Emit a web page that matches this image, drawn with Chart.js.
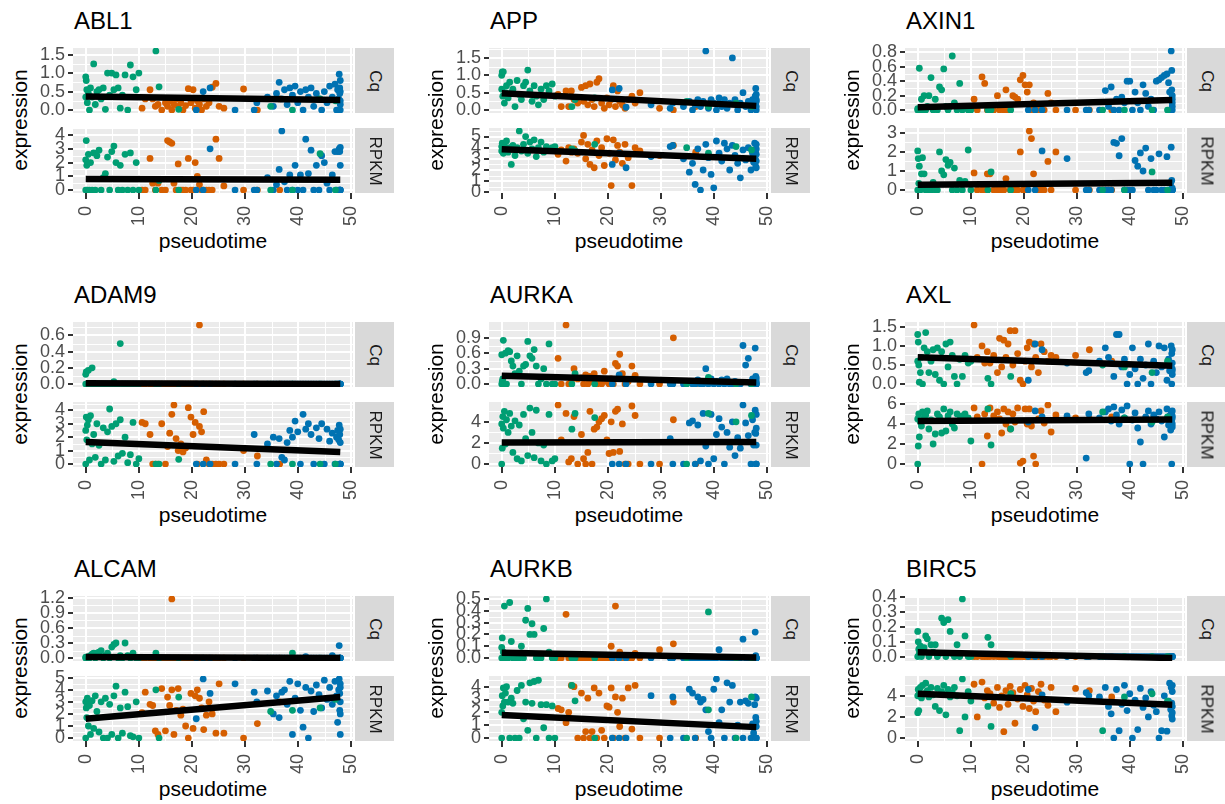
<!DOCTYPE html>
<html>
<head>
<meta charset="utf-8">
<script src="https://cdn.jsdelivr.net/npm/chart.js@4.4.0/dist/chart.umd.min.js"></script>
<style>
  body { margin: 0; background: #fff; }
  #page { position: relative; width: 1225px; height: 804px; overflow: hidden;
          font-family: "Liberation Sans", Arial, Helvetica, sans-serif; }
  .gene { position: absolute; font-size: 24px; line-height: 24px; color: #000; white-space: nowrap; }
  .axtitle { position: absolute; font-size: 21px; line-height: 21px; color: #000; white-space: nowrap; }
  .strip { position: absolute; background: #d9d9d9; }
  .strip span { position: absolute; left: 50%; top: 50%; transform: translate(-50%, -50%) rotate(90deg);
                font-size: 17px; line-height: 17px; color: #1a1a1a; white-space: nowrap; }
  canvas { position: absolute; }
</style>
</head>
<body>
<div id="page"></div>
<script>
// cells, same for every gene: green, orange and blue groups
const greenTime = [0, 0, 0.1, 0.2, 0.3, 0.5, 0.7, 0.9, 1.2, 1.5,
  1.8, 2.1, 2.5, 2.9, 3.3, 3.7, 4.1, 4.5, 4.9, 5.3,
  5.7, 6.1, 6.5, 6.9, 7.4, 7.9, 8.4, 8.9, 9.5, 10.0,
  13.2, 13.8, 17.5, 34.8, 38.9, 44.1, 47.0];
const orangeTime = [10.6, 11.2, 12.1, 12.6, 13.1, 13.6, 14.3, 15.0, 15.4, 15.8,
  16.2, 16.6, 17.0, 17.4, 17.9, 18.3, 18.8, 19.3, 19.8, 20.2,
  20.6, 21.0, 21.4, 21.8, 22.2, 22.7, 23.2, 23.8, 24.5, 25.1,
  26.0, 29.7, 32.3, 36.5];
const blueTime = [20.8, 22.1, 23.4, 28.1, 31.7, 32.2, 34.2, 35.3, 35.9, 36.4,
  36.9, 37.4, 37.9, 38.4, 38.9, 39.4, 39.9, 40.4, 40.9, 41.4,
  41.9, 42.4, 42.9, 43.4, 43.9, 44.4, 44.9, 45.4, 45.9, 46.4,
  46.9, 47.2, 47.4, 47.6, 47.7, 47.8, 47.8, 47.9, 47.9, 47.9,
  47.9, 47.9];

const genes = ['ABL1', 'APP', 'AXIN1', 'ADAM9', 'AURKA', 'AXL', 'ALCAM', 'AURKB', 'BIRC5'];
const groupColors = ['#009E73', '#D55E00', '#0072B2'];
const xTicks = ['0', '10', '20', '30', '40', '50'];

// expression values (green, orange, blue)
const ABL1_Cq = [
  0.9, 0.35, 0.8, 0.55, 0.2, 0.45, 0, 0.6, 0.35, 1.25,
  0.15, 0.5, 0.55, 0.3, 0.6, 0.02, 1.0, 0.4, 1.0, 0.55,
  0.95, 0.6, 0.05, 0.4, 0.95, 0, 1.22, 0.9, 0.55, 1.0,
  1.6, 0.63, 0.02, 0.1, 0, 0.3, 0.25,
  0.05, 0.3, 0.55, 0.3, 0.1, 0.15, 0, 0.2, 0.1, 0.25,
  0, 0.15, 0.3, 0.1, 0.2, 0, 0.12, 0.58, 0.2, 0.55,
  0.05, 0.25, 0.15, 0, 0.3, 0.1, 0.2, 0.62, 0.72, 0.1,
  0.05, 0.57, 0, 0.3,
  0, 0.5, 0.6, 0, 0, 0.2, 0.35, 0.1, 0.45, 0.75,
  0.3, 0.55, 0.15, 0.6, 0.4, 0.65, 0.2, 0.5, 0, 0.55,
  0.35, 0.6, 0.1, 0.45, 0.3, 0, 0.5, 0.2, 0.65, 0.35,
  0.7, 0, 0.55, 0.3, 0.97, 0.6, 0.45, 0.15, 0, 0.5,
  0.25, 0.8];
const ABL1_RPKM = [
  2.2, 0, 3.6, 1.8, 0, 2.6, 0, 2.0, 0, 2.7,
  0, 2.5, 2.9, 0, 0.9, 1.2, 2.4, 0, 2.8, 3.2,
  2.0, 0, 1.8, 0, 2.6, 0, 2.7, 0, 2.0, 0,
  0, 0.7, 0, 0, 0, 2.65, 0,
  0, 0, 2.3, 0.5, 0, 0.5, 0, 0, 3.6, 3.5,
  3.4, 0.5, 0, 1.9, 0, 0, 0, 2.3, 0, 0,
  2.0, 1.0, 0.4, 0, 0, 0, 0, 0, 3.7, 2.3,
  0.3, 0, 0, 0,
  0, 0, 3.0, 0, 0, 0, 0.9, 0, 0.4, 1.5,
  4.3, 0.6, 0, 1.1, 0, 1.8, 0, 1.1, 0, 3.7,
  1.2, 2.9, 0, 1.8, 0, 2.5, 2.0, 0.5, 0, 1.1,
  2.8, 0, 2.8, 0, 3.0, 0, 2.8, 1.8, 0, 3.1,
  0, 0];
const APP_Cq = [
  1.0, 0.6, 1.1, 0.4, 1.1, 0.2, 0.5, 0.7, 0.35, 0.8,
  0.5, 0.6, 0.1, 0.85, 0.45, 0.3, 0.7, 0.8, 1.15, 0.55,
  0.25, 0.7, 0.4, 0.15, 0.6, 0.3, 0.7, 0.55, 0.75, 0.4,
  0.1, 0.3, 0.35, 0.25, 0.1, 0.2, 0.1,
  0.45, 0.1, 0.55, 0.1, 0.55, 0.3, 0.2, 0.65, 0.25, 0.7,
  0.15, 0.75, 0.3, 0.1, 0.8, 0.9, 0.2, 0.05, 0.35, 0.15,
  0.3, 0.7, 0.1, 0.55, 0.25, 0.15, 0.05, 0.3, 0.4, 0.2,
  0.5, 0.05, 0, 0.1,
  0.58, 0.62, 0.08, 0.15, 0.05, 0.2, 0.1, 0.25, 0, 0.15,
  0.3, 0.1, 0.25, 1.7, 0.05, 0.3, 0.2, 0, 0.35, 0.1,
  0.3, 0.05, 0.2, 1.5, 0.3, 0, 0.2, 0.5, 0.1, 0.25,
  0, 0.3, 0.15, 0.05, 0.4, 0.62, 0.2, 0, 0.3, 0.1,
  0.45, 0.25];
const APP_RPKM = [
  4.1, 3.7, 4.4, 3.9, 3.5, 4.2, 3.8, 4.6, 3.6, 4.0,
  2.5, 4.2, 3.3, 4.0, 5.5, 3.7, 4.3, 5.0, 3.5, 4.5,
  3.9, 4.7, 3.2, 4.0, 4.5, 3.6, 4.1, 3.9, 4.0, 4.1,
  3.9, 3.7, 4.3, 4.0, 3.5, 4.1, 3.8,
  3.4, 3.8, 2.8, 4.0, 3.6, 3.9, 3.5, 4.5, 5.1, 3.0,
  4.3, 2.5, 3.8, 2.2, 4.6, 3.3, 4.0, 2.4, 4.8, 3.5,
  0.6, 4.7, 2.9, 4.2, 3.6, 2.6, 4.3, 3.1, 0.6, 4.0,
  3.7, 3.3, 4.2, 3.6,
  2.5, 3.5, 2.2, 3.2, 4.1, 4.2, 3.0, 1.8, 2.6, 0.7,
  3.9, 0.2, 2.0, 4.3, 3.1, 1.6, 0.4, 4.6, 3.5, 2.8,
  4.4, 3.9, 2.0, 4.2, 3.3, 2.6, 1.3, 3.8, 2.9, 4.0,
  2.0, 3.5, 2.7, 4.4, 3.0, 2.3, 3.8, 4.3, 2.8, 3.4,
  2.2, 3.9];
const AXIN1_Cq = [
  0, 0.02, 0, 0, 0.58, 0, 0.15, 0, 0.2, 0,
  0.05, 0.2, 0.45, 0, 0.15, 0, 0.32, 0.28, 0.57, 0.05,
  0, 0.05, 0.75, 0.1, 0, 0.37, 0, 0.05, 0, 0,
  0, 0, 0, 0, 0, 0, 0,
  0.15, 0, 0.46, 0.37, 0, 0, 0, 0.2, 0, 0.05,
  0, 0.28, 0, 0.05, 0.2, 0.18, 0.15, 0.42, 0.48, 0.35,
  0.25, 0.35, 0, 0.1, 0, 0, 0.05, 0, 0.23, 0.1,
  0, 0, 0, 0,
  0, 0, 0, 0, 0, 0, 0, 0.27, 0.05, 0.32,
  0, 0.15, 0, 0.18, 0.1, 0.4, 0.4, 0, 0.25, 0.1,
  0, 0.35, 0.23, 0.05, 0.15, 0, 0.4, 0.42, 0.45, 0.48,
  0.5, 0.38, 0.25, 0, 0.82, 0.55, 0.28, 0.15, 0.1, 0,
  0.2, 0.05];
const AXIN1_RPKM = [
  2.05, 0, 1.65, 0.35, 1.25, 0, 0.85, 1.7, 0.85, 0,
  0, 0.2, 0, 0.4, 0, 0, 2.0, 1.0, 0.8, 1.6,
  1.3, 1.45, 0, 1.15, 0, 0.5, 0, 0.45, 2.1, 0,
  0, 0.95, 0, 0, 0, 0.95, 0,
  0.9, 0, 0, 0, 0.85, 0.85, 0, 0, 0, 0,
  0, 0.6, 0.3, 0, 0, 0, 0, 2.0, 0, 0,
  0, 3.1, 2.7, 0.85, 0, 0, 0, 0, 1.5, 0,
  2.0, 0, 0, 0,
  0, 0, 2.05, 1.65, 0, 0, 0, 0, 0, 0,
  2.5, 2.45, 1.8, 2.7, 0, 0, 0, 0, 1.55, 1.25,
  1.95, 1.0, 2.2, 0, 1.65, 0, 0, 1.9, 0, 0,
  1.75, 0, 0, 0.35, 2.25, 0.5, 0, 0, 0.1, 0,
  0, 0];
const ADAM9_Cq = [
  0.12, 0, 0.15, 0, 0, 0.17, 0, 0, 0.2, 0,
  0, 0, 0, 0, 0, 0, 0, 0, 0, 0.03,
  0, 0, 0.5, 0, 0, 0, 0, 0, 0, 0,
  0, 0, 0, 0, 0, 0, 0,
  0, 0, 0, 0, 0, 0, 0, 0, 0, 0,
  0, 0, 0, 0, 0, 0, 0, 0, 0, 0,
  0, 0, 0.73, 0, 0, 0, 0, 0, 0, 0,
  0, 0, 0, 0,
  0, 0, 0, 0, 0, 0, 0, 0, 0, 0,
  0, 0, 0, 0, 0, 0, 0, 0, 0, 0,
  0, 0, 0, 0, 0, 0, 0, 0, 0, 0,
  0, 0, 0, 0, 0, 0, 0, 0, 0, 0,
  0, 0];
const ADAM9_RPKM = [
  2.5, 0, 3.5, 1.8, 2.9, 3.3, 0.3, 3.6, 1.5, 2.2,
  0.5, 3.0, 1.4, 0, 2.7, 0.3, 2.4, 4.1, 2.8, 0.2,
  3.0, 0.6, 3.3, 0.8, 2.0, 0.1, 0.7, 3.1, 0, 0.4,
  0, 0, 0.35, 0, 0, 0, 0,
  3.1, 3.0, 2.2, 0, 0, 0, 3.0, 0, 1.3, 2.3,
  3.7, 4.4, 1.9, 1.0, 1.5, 0.9, 1.2, 4.2, 3.5, 2.2,
  3.1, 0, 2.8, 2.4, 3.9, 0.3, 0, 0, 0, 0,
  0, 1.0, 0.6, 0,
  0, 0, 0, 0, 2.2, 0, 1.5, 2.0, 0, 1.9,
  0.5, 0.3, 1.6, 2.5, 2.0, 3.2, 2.4, 0, 3.7, 2.6,
  3.0, 2.2, 0, 2.7, 1.9, 3.0, 0, 2.6, 1.7, 2.3,
  0, 2.0, 2.5, 1.8, 2.9, 0, 2.2, 0, 1.6, 0,
  0, 2.6];
const AURKA_Cq = [
  0.57, 0, 0.05, 0.1, 0.85, 0, 0.6, 0, 0.65, 0.63,
  0.45, 0.35, 0.2, 0.55, 0.25, 0, 0.35, 0.38, 0.83, 0.55,
  0.5, 0.67, 0.35, 0, 0.1, 0.3, 0, 0.78, 0, 0,
  0, 0.2, 0, 0, 0.13, 0, 0,
  0.5, 0, 1.15, 0, 0.05, 0.3, 0.1, 0.12, 0, 0.18,
  0, 0.15, 0.05, 0.2, 0, 0.1, 0, 0.25, 0.05, 0,
  0.1, 0, 0.4, 0.35, 0.58, 0.2, 0, 0.05, 0.35, 0.17,
  0, 0, 0.9, 0,
  0, 0.18, 0, 0, 0, 0, 0, 0.05, 0, 0,
  0.08, 0, 0, 0.3, 0, 0.1, 0, 0.05, 0, 0.08,
  0, 0.1, 0, 0, 0.05, 0, 0, 0.75, 0.37, 0.5,
  0, 0.1, 0, 0.05, 0.7, 0.15, 0.1, 0, 0.05, 0,
  0.12, 0];
const AURKA_RPKM = [
  3.8, 0, 1.5, 4.5, 3.4, 5.0, 1.9, 4.2, 3.0, 4.8,
  3.6, 1.1, 4.1, 0.5, 3.7, 0.3, 4.7, 2.4, 0.8, 5.3,
  3.0, 0.6, 5.1, 2.0, 0.3, 1.8, 0, 4.7, 0.3, 0.5,
  3.3, 4.8, 4.4, 0, 4.8, 4.0, 4.6,
  5.6, 2.3, 4.8, 0.2, 0.5, 4.5, 0, 2.8, 0.5, 0,
  1.1, 5.0, 0, 3.3, 3.5, 4.0, 4.3, 4.6, 2.3, 1.0,
  4.0, 1.1, 5.0, 5.2, 1.2, 3.8, 0, 0, 5.5, 4.6,
  0, 0, 4.2, 0,
  0, 0, 0, 0, 2.4, 0, 0, 3.9, 4.1, 0,
  3.7, 0.3, 4.8, 1.7, 0, 4.7, 0.5, 2.8, 4.3, 3.5,
  0, 3.0, 1.6, 4.0, 0.8, 2.5, 1.5, 5.6, 3.9, 2.7,
  0, 4.2, 1.8, 3.0, 5.1, 0, 2.9, 4.7, 0, 1.8,
  3.4, 0];
const AXL_Cq = [
  1.3, 0.6, 1.1, 0.5, 0.05, 0.3, 0.7, 0, 0.95, 1.35,
  0.85, 0.3, 0.6, 0.9, 0.25, 0.95, 0.1, 0.85, 0, 1.05,
  0.45, 1.1, 0.75, 0.2, 0, 0.65, 0.2, 0.75, 0.55, 0.6,
  0.15, 0, 0.2, 0.5, 0.45, 0.3, 0.6,
  1.55, 0.7, 1.0, 0.55, 0.85, 0.55, 0.75, 0.3, 1.2, 0.45,
  1.15, 0.7, 1.05, 1.4, 0.5, 1.4, 0.8, 0.1, 0, 0.6,
  0.95, 1.1, 0.45, 1.05, 0.7, 0.3, 1.05, 0.85, 0.6, 0.75,
  0.7, 0.75, 0.9, 0.6,
  0.1, 1.05, 0.9, 0.55, 0.3, 0.35, 0.6, 0.95, 0.7, 0.55,
  0.2, 1.3, 1.3, 0.45, 0.65, 0, 0.25, 0.95, 0.4, 0,
  0.65, 0.15, 0.5, 1.05, 0, 0.6, 0.3, 1.0, 0.45, 0.95,
  0.1, 0.65, 0.35, 0.5, 1.0, 0, 0.8, 0.4, 0.9, 0.25,
  0.55, 0.35];
const AXL_RPKM = [
  4.5, 0, 1.8, 5.0, 2.7, 4.2, 3.8, 5.2, 4.6, 4.9,
  5.3, 3.5, 4.4, 2.0, 3.0, 5.0, 4.7, 3.1, 5.5, 3.3,
  4.8, 5.2, 4.0, 3.6, 5.0, 4.4, 4.8, 5.0, 4.6, 2.3,
  5.5, 1.9, 3.5, 5.2, 4.6, 4.2, 4.7,
  5.6, 4.7, 0, 5.0, 2.8, 5.6, 4.8, 5.2, 4.5, 3.1,
  5.5, 4.0, 5.2, 3.5, 5.0, 4.2, 5.6, 0.1, 0.3, 5.5,
  4.0, 5.5, 3.8, 0.8, 0, 4.5, 5.3, 4.1, 5.9, 3.2,
  4.9, 4.6, 4.5, 4.7,
  4.2, 5.3, 4.7, 4.8, 0.6, 5.0, 4.6, 5.2, 5.5, 4.3,
  5.7, 4.9, 4.0, 5.4, 4.6, 5.8, 0, 4.4, 5.1, 3.6,
  2.2, 0, 4.7, 5.3, 4.0, 4.9, 4.5, 5.2, 4.3, 2.7,
  5.5, 3.9, 4.8, 3.4, 5.0, 0, 4.4, 3.7, 5.3, 4.6,
  4.0, 4.8];
const ALCAM_Cq = [
  0, 0.02, 0, 0, 0, 0.03, 0, 0.05, 0.08, 0.1,
  0, 0.1, 0.12, 0.15, 0, 0.05, 0.1, 0, 0.22, 0.27,
  0.3, 0, 0.05, 0, 0.3, 0.05, 0, 0.1, 0, 0,
  0.1, 0, 0, 0, 0.1, 0, 0,
  0, 0, 0, 0, 0, 0, 0, 0, 0, 0,
  1.18, 0, 0, 0, 0, 0, 0, 0, 0, 0,
  0, 0, 0, 0, 0, 0, 0, 0, 0, 0,
  0, 0, 0, 0,
  0, 0, 0, 0, 0, 0, 0, 0, 0, 0,
  0, 0, 0, 0, 0, 0, 0, 0, 0, 0.03,
  0, 0, 0, 0, 0, 0, 0, 0, 0, 0.05,
  0, 0, 0, 0, 0.25, 0, 0, 0, 0, 0,
  0, 0];
const ALCAM_RPKM = [
  3.0, 0, 2.5, 1.7, 3.3, 1.0, 2.7, 0.3, 3.1, 0.8,
  3.5, 2.2, 0.5, 3.0, 0, 3.3, 0, 2.8, 0.3, 3.5,
  4.3, 0, 2.5, 0.4, 3.8, 2.6, 0.2, 0.1, 3.0, 0,
  4.0, 0, 3.4, 2.2, 2.3, 2.5, 3.2,
  2.1, 3.8, 2.8, 2.7, 0.6, 0.3, 4.1, 0.6, 3.4, 2.7,
  4.0, 0.3, 2.3, 4.1, 1.9, 2.4, 1.0, 0, 3.7, 0.8,
  3.5, 4.0, 3.3, 2.5, 0.7, 1.9, 3.0, 2.0, 0.4, 4.5,
  0.4, 0, 1.2, 3.0,
  1.6, 4.9, 3.7, 4.5, 3.8, 3.0, 3.9, 2.0, 3.5, 1.7,
  3.8, 4.0, 2.8, 4.7, 0.3, 3.3, 4.5, 2.3, 0.9, 4.2,
  0, 3.9, 2.2, 4.4, 3.6, 2.5, 4.8, 3.2, 4.2, 2.8,
  4.7, 3.5, 1.3, 4.0, 4.9, 2.3, 3.7, 0.3, 4.5, 3.0,
  2.0, 4.2];
const AURKB_Cq = [
  0.09, 0, 0.17, 0, 0.05, 0.44, 0, 0.02, 0, 0.47,
  0.14, 0, 0, 0, 0, 0.1, 0, 0.32, 0.42, 0.2,
  0.29, 0.2, 0, 0, 0, 0.25, 0.5, 0.05, 0, 0,
  0, 0, 0, 0, 0.39, 0, 0,
  0, 0, 0.37, 0, 0, 0, 0, 0, 0, 0,
  0, 0, 0, 0, 0, 0, 0, 0, 0, 0,
  0.1, 0, 0.44, 0, 0.05, 0, 0, 0, 0, 0.04,
  0, 0.07, 0.12, 0,
  0, 0, 0, 0, 0, 0, 0, 0, 0, 0,
  0, 0, 0, 0, 0, 0, 0, 0, 0.07, 0,
  0, 0, 0, 0, 0, 0, 0, 0.16, 0, 0,
  0, 0, 0, 0, 0.22, 0.02, 0, 0, 0, 0,
  0, 0];
const AURKB_RPKM = [
  2.0, 0, 3.3, 2.5, 3.9, 2.8, 3.5, 4.0, 2.8, 0,
  3.1, 2.7, 0, 3.7, 0, 4.1, 1.5, 2.8, 0.6, 4.3,
  2.7, 4.4, 0, 4.5, 2.6, 0.8, 2.6, 0, 2.5, 0,
  4.1, 2.9, 0, 0, 2.2, 0, 3.2,
  2.3, 2.2, 1.2, 2.0, 4.1, 4.0, 0, 3.5, 0, 0.5,
  3.1, 0, 0.5, 3.9, 0, 3.5, 0.6, 0, 2.5, 2.4,
  3.9, 0, 3.2, 2.0, 0.9, 3.1, 0, 3.9, 0.7, 4.1,
  0, 0, 2.8, 0,
  0, 0, 0, 3.3, 0, 3.2, 0, 3.8, 3.5, 0,
  3.2, 2.8, 3.0, 2.2, 0.5, 0, 3.8, 4.6, 1.2, 2.2,
  0, 4.3, 2.8, 4.1, 0, 1.0, 2.8, 0, 2.9, 2.7,
  0, 1.1, 0.4, 2.6, 3.2, 1.6, 0, 1.3, 3.1, 0,
  0, 0.9];
const BIRC5_Cq = [
  0.17, 0, 0.1, 0.05, 0.02, 0.07, 0, 0.03, 0.06, 0.14,
  0.12, 0, 0.08, 0.03, 0.08, 0, 0.02, 0.26, 0.23, 0,
  0.25, 0.17, 0.02, 0, 0.08, 0, 0.39, 0.14, 0, 0,
  0.13, 0.08, 0, 0, 0, 0, 0,
  0, 0, 0, 0, 0, 0, 0, 0, 0, 0,
  0, 0, 0, 0, 0, 0, 0, 0, 0, 0,
  0, 0, 0, 0, 0, 0, 0, 0, 0, 0,
  0, 0, 0, 0,
  0, 0, 0, 0, 0, 0, 0, 0, 0, 0,
  0, 0, 0, 0, 0, 0, 0, 0, 0, 0,
  0, 0, 0, 0, 0, 0, 0, 0, 0, 0,
  0, 0, 0, 0, 0, 0, 0, 0, 0, 0,
  0, 0];
const BIRC5_RPKM = [
  4.0, 2.4, 4.6, 2.6, 4.3, 4.8, 3.8, 5.0, 4.2, 5.2,
  4.5, 3.9, 4.8, 4.1, 3.0, 4.7, 2.6, 4.4, 5.0, 2.2,
  4.6, 3.9, 4.3, 4.8, 4.0, 0.7, 5.6, 2.0, 4.4, 3.5,
  3.0, 1.1, 4.2, 0.7, 3.9, 4.2, 3.5,
  5.1, 2.0, 5.3, 3.8, 4.5, 4.2, 3.3, 4.8, 2.9, 4.0,
  0.6, 4.5, 3.2, 4.9, 4.3, 1.4, 3.7, 4.6, 3.0, 5.0,
  4.1, 2.8, 4.7, 3.5, 2.5, 4.4, 5.1, 3.6, 3.1, 4.8,
  2.5, 4.7, 4.5, 3.9,
  4.6, 1.0, 4.1, 3.4, 4.3, 4.0, 3.9, 4.8, 3.0, 2.3,
  0, 4.6, 0.7, 3.2, 5.0, 2.6, 4.2, 0, 3.6, 0.8,
  4.7, 2.9, 3.8, 2.0, 4.4, 3.1, 2.5, 0, 0.7, 4.0,
  0.65, 3.5, 5.2, 2.7, 4.8, 3.3, 2.1, 4.4, 1.8, 3.0,
  5.0, 2.4];

// y tick labels, per gene in the order of `genes`
const cqTicks = [
  ['0.0', '0.5', '1.0', '1.5'], ['0.0', '0.5', '1.0', '1.5'], ['0.0', '0.2', '0.4', '0.6', '0.8'],
  ['0.0', '0.2', '0.4', '0.6'], ['0.0', '0.3', '0.6', '0.9'], ['0.0', '0.5', '1.0', '1.5'],
  ['0.0', '0.3', '0.6', '0.9', '1.2'], ['0.0', '0.1', '0.2', '0.3', '0.4', '0.5'], ['0.0', '0.1', '0.2', '0.3', '0.4']];
const rpkmTicks = [
  ['0', '1', '2', '3', '4'], ['0', '1', '2', '3', '4', '5'], ['0', '1', '2', '3'],
  ['0', '1', '2', '3', '4'], ['0', '2', '4'], ['0', '2', '4', '6'],
  ['0', '1', '2', '3', '4', '5'], ['0', '1', '2', '3', '4'], ['0', '2', '4']];
// linear fit at the first and last pseudotime
const cqFit = [[0.37, 0.27], [0.48, 0.12], [0.04, 0.14], [0.01, 0.0], [0.16, 0.03],
  [0.7, 0.48], [0.02, 0.0], [0.045, 0.005], [0.03, -0.01]];
const rpkmFit = [[0.8, 0.75], [3.85, 3.0], [0.28, 0.38], [1.65, 0.9], [2.05, 2.1],
  [4.3, 4.45], [1.6, 3.4], [1.8, 0.85], [4.2, 3.15]];

const cqData = [ABL1_Cq, APP_Cq, AXIN1_Cq, ADAM9_Cq, AURKA_Cq, AXL_Cq, ALCAM_Cq, AURKB_Cq, BIRC5_Cq];
const rpkmData = [ABL1_RPKM, APP_RPKM, AXIN1_RPKM, ADAM9_RPKM, AURKA_RPKM, AXL_RPKM, ALCAM_RPKM, AURKB_RPKM, BIRC5_RPKM];

const pseudotime = greenTime.concat(orangeTime, blueTime);
const nG = greenTime.length, nO = orangeTime.length;
cqData.concat(rpkmData).forEach((a, i) => {
  if (a.length !== pseudotime.length) throw new Error('array ' + i + ' has ' + a.length + ' values');
});

// layout (px)
const colX = [0, 416, 832], rowY = [0, 274, 548];
const PANEL_L = 73, PANEL_R = 353, RIGHT_PAD = 34, PAD = 16, XAXIS_H = 46;
const CQ_TOP = 48, RP_TOP = 128, PANEL_H = 65;

Chart.defaults.font.family = '"Liberation Sans", Arial, Helvetica, sans-serif';

const tMin = Math.min(...pseudotime), tMax = Math.max(...pseudotime);
const xPad = (tMax - tMin) * 0.05;

function yRange(vals, fit) {
  const all = vals.concat(fit);
  const lo = Math.min(...all), hi = Math.max(...all), e = (hi - lo) * 0.05;
  return [lo - e, hi + e];
}

// grey panel and the thin minor grid lines
const panelBg = {
  id: 'panelBg',
  beforeDraw(chart) {
    const { ctx, chartArea: a, scales } = chart;
    ctx.save();
    ctx.fillStyle = '#EBEBEB';
    ctx.fillRect(a.left, a.top, a.right - a.left, a.bottom - a.top);
    ctx.strokeStyle = '#FFFFFF';
    ctx.lineWidth = 1;
    ['x', 'y'].forEach(id => {
      const s = scales[id];
      const t = s.ticks.map(k => k.value);
      const step = t[1] - t[0];
      for (let v = t[0] - step / 2; v <= s.max; v += step) {
        if (v < s.min) continue;
        const p = Math.round(s.getPixelForValue(v)) + 0.5;
        ctx.beginPath();
        if (id === 'x') { ctx.moveTo(p, a.top); ctx.lineTo(p, a.bottom); }
        else { ctx.moveTo(a.left, p); ctx.lineTo(a.right, p); }
        ctx.stroke();
      }
    });
    ctx.restore();
  }
};

function points(vals, from, to) {
  const pts = [];
  for (let i = from; i < to; i++) pts.push({ x: pseudotime[i], y: vals[i] });
  return pts;
}

function groupSet(vals, from, to, color) {
  return {
    data: points(vals, from, to),
    pointRadius: 3.4,
    pointBackgroundColor: color,
    pointBorderWidth: 0,
    pointBorderColor: color
  };
}

const page = document.getElementById('page');

function drawFacet(left, panelTop, vals, tickLabels, fit, withX) {
  const canvas = document.createElement('canvas');
  const w = PANEL_R + RIGHT_PAD;
  const h = PAD + PANEL_H + (withX ? XAXIS_H : PAD);
  canvas.width = w; canvas.height = h;
  canvas.style.width = w + 'px'; canvas.style.height = h + 'px';
  canvas.style.left = left + 'px'; canvas.style.top = (panelTop - PAD) + 'px';
  page.appendChild(canvas);

  const [yMin, yMax] = yRange(vals, fit);
  const yTicks = tickLabels.map(Number);
  const tickFont = { size: 18 };

  new Chart(canvas, {
    type: 'scatter',
    data: {
      datasets: [
        { data: [{ x: tMin, y: fit[0] }, { x: tMax, y: fit[1] }], showLine: true,
          borderColor: '#000', borderWidth: 6.5, borderCapStyle: 'butt', pointRadius: 0, fill: false },
        groupSet(vals, 0, nG, groupColors[0]),
        groupSet(vals, nG + nO, pseudotime.length, groupColors[2]),
        groupSet(vals, nG, nG + nO, groupColors[1])
      ]
    },
    options: {
      responsive: false,
      animation: false,
      devicePixelRatio: 1,
      events: [],
      layout: { padding: { left: 0, right: RIGHT_PAD, top: PAD, bottom: withX ? 0 : PAD } },
      plugins: { legend: { display: false }, tooltip: { enabled: false } },
      scales: {
        x: {
          type: 'linear', min: tMin - xPad, max: tMax + xPad,
          afterBuildTicks: s => { s.ticks = xTicks.map(l => ({ value: Number(l) })); },
          afterFit: s => { s.height = withX ? XAXIS_H : 0; },
          border: { display: false },
          grid: { color: '#FFFFFF', lineWidth: 2, drawTicks: withX, tickLength: 6, tickColor: '#333333', tickWidth: 2 },
          ticks: { display: withX, callback: (v, i) => xTicks[i], autoSkip: false,
                   minRotation: 90, maxRotation: 90, padding: 7, color: '#4D4D4D', font: tickFont }
        },
        y: {
          type: 'linear', min: yMin, max: yMax,
          afterBuildTicks: s => { s.ticks = yTicks.map(v => ({ value: v })); },
          afterFit: s => { s.width = PANEL_L; },
          border: { display: false },
          grid: { color: '#FFFFFF', lineWidth: 2, drawTicks: true, tickLength: 5, tickColor: '#333333', tickWidth: 2 },
          ticks: { callback: (v, i) => tickLabels[i], autoSkip: false, padding: 3, color: '#4D4D4D', font: tickFont }
        }
      }
    },
    plugins: [panelBg]
  });
}

function addDiv(cls, text, css) {
  const d = document.createElement('div');
  d.className = cls;
  d.textContent = text;
  Object.assign(d.style, css);
  page.appendChild(d);
  return d;
}

function addStrip(left, top, label) {
  const s = document.createElement('div');
  s.className = 'strip';
  Object.assign(s.style, { left: left + 'px', top: top + 'px', width: '39px', height: PANEL_H + 'px' });
  const t = document.createElement('span');
  t.textContent = label;
  s.appendChild(t);
  page.appendChild(s);
}

genes.forEach((gene, g) => {
  const x0 = colX[g % 3], y0 = rowY[Math.floor(g / 3)];
  addDiv('gene', gene, { left: (x0 + 74) + 'px', top: (y0 + 9) + 'px' });
  addDiv('axtitle', 'expression', { left: (x0 + 19) + 'px', top: (y0 + 120) + 'px',
    transform: 'translate(-50%, -50%) rotate(-90deg)' });
  addDiv('axtitle', 'pseudotime', { left: (x0 + (PANEL_L + PANEL_R) / 2) + 'px', top: (y0 + 230) + 'px',
    transform: 'translateX(-50%)' });
  drawFacet(x0, y0 + CQ_TOP, cqData[g], cqTicks[g], cqFit[g], false);
  drawFacet(x0, y0 + RP_TOP, rpkmData[g], rpkmTicks[g], rpkmFit[g], true);
  addStrip(x0 + 355, y0 + CQ_TOP, 'Cq');
  addStrip(x0 + 355, y0 + RP_TOP, 'RPKM');
});
</script>
</body>
</html>
